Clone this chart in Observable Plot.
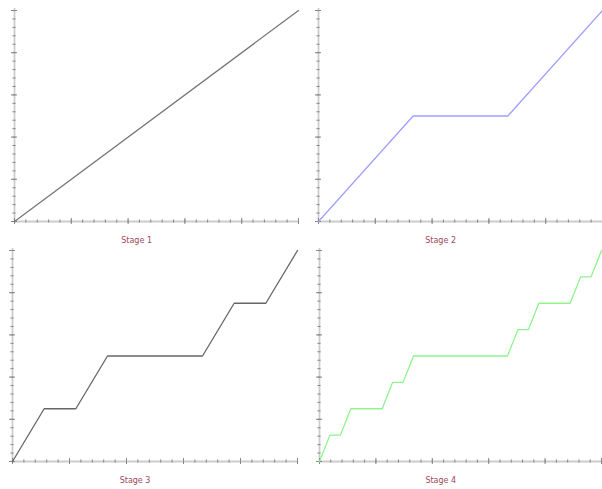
<!DOCTYPE html>
<html>
<head>
<meta charset="utf-8">
<script src="https://cdn.jsdelivr.net/npm/d3@7"></script>
<script src="https://cdn.jsdelivr.net/npm/@observablehq/plot@0.6"></script>
<style>
  html, body { margin: 0; padding: 0; background: #fff; }
  #wrap { position: relative; width: 602px; height: 489px; overflow: hidden; }
  #wrap > div { position: absolute; }
  svg { overflow: visible; }
</style>
</head>
<body>
<div id="wrap"></div>
<script>
// Stage titles
const titles = ["Stage 1", "Stage 2", "Stage 3", "Stage 4"];

// Stage 1
const s1x = [0, 1];
const s1y = [0, 1];
// Stage 2
const s2x = [0, 1/3, 2/3, 1];
const s2y = [0, 1/2, 1/2, 1];
// Stage 3
const s3x = [0, 1/9, 2/9, 1/3, 2/3, 7/9, 8/9, 1];
const s3y = [0, 1/4, 1/4, 1/2, 1/2, 3/4, 3/4, 1];
// Stage 4
const s4x = [0, 1/27, 2/27, 3/27, 6/27, 7/27, 8/27, 9/27, 18/27, 19/27, 20/27, 21/27, 24/27, 25/27, 26/27, 1];
const s4y = [0, 1/8, 1/8, 2/8, 2/8, 3/8, 3/8, 4/8, 4/8, 5/8, 5/8, 6/8, 6/8, 7/8, 7/8, 1];

const lineColors = ["#777777", "#a0a0ff", "#666666", "#8cf58c"];
const series = [[s1x, s1y], [s2x, s2y], [s3x, s3y], [s4x, s4y]];

const minorTicks = d3.range(0, 1.0001, 0.04);
const majorTicks = d3.range(0, 1.0001, 0.2);

const panels = [
  {left: 0,   top: 0,   width: 301, height: 244, ml: 14, mr: 3, mt: 10, mb: 23},
  {left: 301, top: 0,   width: 301, height: 244, ml: 17, mr: 0, mt: 10, mb: 23},
  {left: 0,   top: 240, width: 301, height: 249, ml: 12, mr: 4, mt: 10, mb: 28},
  {left: 301, top: 240, width: 301, height: 249, ml: 18, mr: 1, mt: 10, mb: 28}
];

const wrap = document.getElementById("wrap");
panels.forEach((p, i) => {
  const [xs, ys] = series[i];
  const data = xs.map((x, k) => ({x, y: ys[k]}));
  const pw = p.width - p.ml - p.mr;
  const ph = p.height - p.mt - p.mb;
  const tx = 1.6 / pw, ty = 1.6 / ph;      // minor tick half-lengths in data units
  const Tx = 3 / pw, Ty = 3 / ph;          // major tick half-lengths
  const chart = Plot.plot({
    width: p.width,
    height: p.height,
    marginLeft: p.ml,
    marginRight: p.mr,
    marginTop: p.mt,
    marginBottom: p.mb,
    x: {domain: [0, 1], axis: null},
    y: {domain: [0, 1], axis: null},
    style: {background: "transparent"},
    marks: [
      // axis lines
      Plot.ruleY([0], {x1: 0, x2: 1, stroke: "#cccccc", strokeWidth: 1.8}),
      Plot.ruleX([0], {y1: 0, y2: 1.01, stroke: "#cccccc", strokeWidth: 1.8}),
      // x ticks
      Plot.ruleX(minorTicks, {x: d => d, y1: -ty, y2: ty, stroke: "#888", strokeWidth: 1}),
      Plot.ruleX(majorTicks, {x: d => d, y1: -Ty, y2: Ty, stroke: "#888", strokeWidth: 1}),
      // y ticks
      Plot.ruleY(minorTicks, {y: d => d, x1: -tx, x2: tx, stroke: "#888", strokeWidth: 1}),
      Plot.ruleY(majorTicks, {y: d => d, x1: -Tx, x2: Tx, stroke: "#888", strokeWidth: 1}),
      // the staircase
      Plot.line(data, {x: "x", y: "y", stroke: lineColors[i], strokeWidth: 1.3}),
      // stage title
      Plot.text([titles[i]], {x: 0.43, y: 0, dy: 19, text: d => d, fill: "#a04858",
        fontSize: 8, fontFamily: "DejaVu Sans", textAnchor: "middle"})
    ]
  });
  const div = document.createElement("div");
  div.style.left = p.left + "px";
  div.style.top = p.top + "px";
  div.appendChild(chart);
  wrap.appendChild(div);
});
</script>
</body>
</html>
